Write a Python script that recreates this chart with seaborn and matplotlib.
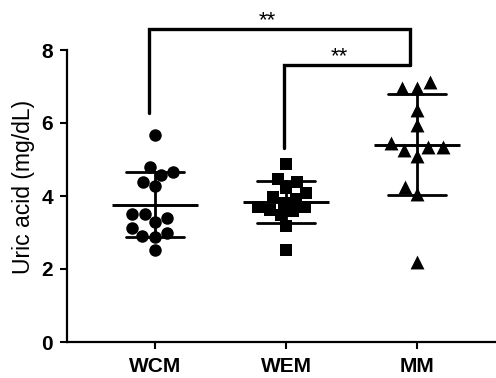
import pandas as pd
import seaborn as sns
import matplotlib.pyplot as plt

groups = ["WCM", "WEM", "MM"]
wcm = [5.67, 4.66, 4.79, 4.58, 4.38, 4.27, 3.40, 3.51, 3.51, 3.29, 3.12, 2.90, 2.99, 2.88, 2.52]
wem = [4.88, 4.38, 4.47, 4.22, 4.08, 3.92, 3.97, 3.81, 3.59, 3.70, 3.70, 3.62, 3.48, 3.18, 2.52]
mm = [6.96, 6.96, 7.12, 6.36, 5.95, 5.45, 5.34, 5.10, 5.26, 5.34, 4.25, 4.05, 2.19]
markers = ["o", "s", "^"]
sizes = [9, 8.5, 10]

df = pd.DataFrame({
    "group": ["WCM"] * len(wcm) + ["WEM"] * len(wem) + ["MM"] * len(mm),
    "value": wcm + wem + mm,
})

sns.set_theme(style="ticks")
plt.rcParams["font.family"] = ["Liberation Sans", "DejaVu Sans"]
plt.rcParams["text.color"] = "black"
plt.rcParams["axes.labelcolor"] = "black"

fig = plt.figure(figsize=(4.96, 3.78), dpi=100)
ax = fig.add_axes([67 / 496, 1 - 342 / 378, 429 / 496, 292 / 378])

for g, m, sz in zip(groups, markers, sizes):
    sns.swarmplot(data=df[df["group"] == g], x="group", y="value", order=groups,
                  marker=m, color="black", size=sz, ax=ax, zorder=3)

sns.pointplot(data=df, x="group", y="value", order=groups, errorbar="sd",
              capsize=0.44, linestyle="none", marker="_", markersize=62,
              markeredgewidth=2.1, color="black", err_kws={"linewidth": 2.0},
              ax=ax, zorder=4)

ax.set_xlim(-0.672, 2.603)
ax.set_ylim(0, 8)
ax.set_yticks([0, 2, 4, 6, 8])
ax.set_xlabel("")
ax.set_ylabel("Uric acid (mg/dL)", fontsize=16.5, color="black")
ax.yaxis.set_label_coords(-0.075, 0.53)

for lbl in ax.get_xticklabels() + ax.get_yticklabels():
    lbl.set_fontweight("bold")
ax.tick_params(axis="both", labelsize=15, width=1.5, length=5, color="black",
               labelcolor="black")
ax.tick_params(axis="x", pad=6)
ax.tick_params(axis="y", pad=5)

sns.despine(ax=ax)
for s in ["left", "bottom"]:
    ax.spines[s].set_linewidth(1.6)
    ax.spines[s].set_color("black")

# significance brackets
lw = 2.4
ax.plot([-0.046, -0.046, 1.947, 1.947], [6.27, 8.58, 8.58, 7.59],
        color="black", lw=lw, clip_on=False, solid_joinstyle="miter")
ax.plot([0.985, 0.985, 1.947], [5.32, 7.59, 7.59],
        color="black", lw=lw, clip_on=False, solid_joinstyle="miter")
ax.text(0.86, 8.66, "**", ha="center", va="baseline", fontsize=16,
        color="black", clip_on=False)
ax.text(1.41, 7.67, "**", ha="center", va="baseline", fontsize=16,
        color="black", clip_on=False)

fig.savefig("out.png", dpi=100)
